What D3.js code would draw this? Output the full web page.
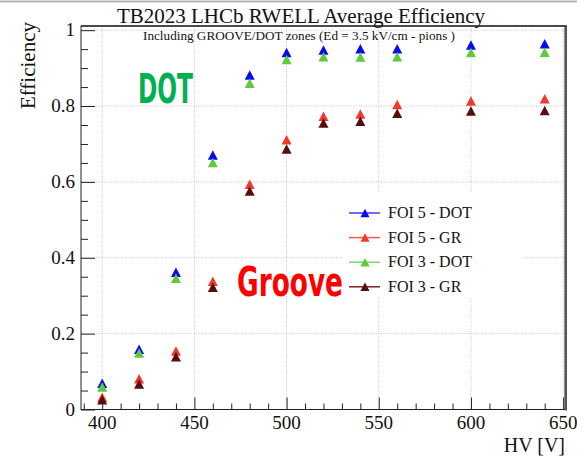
<!DOCTYPE html>
<html>
<head>
<meta charset="utf-8">
<script src="https://cdn.jsdelivr.net/npm/d3@7/dist/d3.min.js"></script>
<style>
  html, body { margin: 0; padding: 0; background: #fff; }
  svg { display: block; }
  text { font-family: "Liberation Serif", "DejaVu Serif", serif; fill: #111; }
</style>
</head>
<body>
<div id="chart"></div>
<script>
// HV scan points and efficiencies per zone / field of interest
const hv = [400, 420, 440, 460, 480, 500, 520, 540, 560, 600, 640];
const foi5Dot = [0.069, 0.159, 0.362, 0.671, 0.882, 0.941, 0.948, 0.951, 0.951, 0.961, 0.964];
const foi5Gr  = [0.032, 0.081, 0.154, 0.338, 0.594, 0.711, 0.773, 0.779, 0.804, 0.813, 0.819];
const foi3Dot = [0.059, 0.149, 0.346, 0.651, 0.860, 0.923, 0.930, 0.929, 0.930, 0.941, 0.942];
const foi3Gr  = [0.026, 0.067, 0.139, 0.322, 0.576, 0.687, 0.755, 0.760, 0.781, 0.787, 0.788];

const seriesNames = ["FOI 5 - DOT", "FOI 5 - GR", "FOI 3 - DOT", "FOI 3 - GR"];
const seriesValues = [foi5Dot, foi5Gr, foi3Dot, foi3Gr];
const seriesColors = ["#0a0af0", "#f03a2c", "#5ccc3c", "#5a0c0c"];
const legendColors = ["#3b3bff", "#f25a4a", "#7ad86a", "#7a2a2a"];

const xTicks = [400, 450, 500, 550, 600, 650];
const yTicks = [0, 0.2, 0.4, 0.6, 0.8, 1];

const width = 577, height = 456;
const frame = {left: 81, right: 565, top: 26, bottom: 409.5};

const x = d3.scaleLinear().domain([388.5, 651]).range([frame.left, frame.right]);
const y = d3.scaleLinear().domain([0, 1.011]).range([frame.bottom, frame.top]);

const svg = d3.select("#chart").append("svg")
    .attr("width", width)
    .attr("height", height);

svg.append("rect").attr("width", width).attr("height", height).attr("fill", "#fff");
svg.append("line")
    .attr("x1", 0).attr("x2", width).attr("y1", 1.5).attr("y2", 1.5)
    .attr("stroke", "#b4b4b4").attr("stroke-width", 2);

// dotted grid
const grid = svg.append("g").attr("stroke", "#c4c4c4").attr("stroke-dasharray", "1,1.5");
grid.selectAll(".gx").data(xTicks).enter().append("line")
    .attr("x1", d => x(d)).attr("x2", d => x(d))
    .attr("y1", frame.top).attr("y2", frame.bottom);
grid.selectAll(".gy").data(yTicks.filter(d => d > 0)).enter().append("line")
    .attr("x1", frame.left).attr("x2", frame.right)
    .attr("y1", d => y(d)).attr("y2", d => y(d));

// axes with ticks pointing into the frame
const xAxis = d3.axisBottom(x)
    .tickValues(d3.range(390, 651, 10))
    .tickSize(-6)
    .tickFormat("");
svg.append("g").attr("transform", `translate(0,${frame.bottom})`).call(xAxis)
    .call(g => g.select(".domain").remove())
    .call(g => g.selectAll(".tick line")
        .attr("stroke", "#222")
        .attr("y2", d => d % 50 === 0 ? -12 : -6));

const yAxis = d3.axisLeft(y)
    .tickValues(d3.range(0, 1.001, 0.05))
    .tickSize(-7)
    .tickFormat("");
svg.append("g").attr("transform", `translate(${frame.left},0)`).call(yAxis)
    .call(g => g.select(".domain").remove())
    .call(g => g.selectAll(".tick line")
        .attr("stroke", "#222")
        .attr("x2", (d, i) => i % 4 === 0 ? 14 : 7));

svg.append("g").selectAll("text").data(xTicks).enter().append("text")
    .attr("x", d => x(d)).attr("y", 429)
    .attr("text-anchor", "middle")
    .attr("font-size", 19)
    .text(d => d);

svg.append("g").selectAll("text").data(yTicks).enter().append("text")
    .attr("x", 75).attr("y", d => y(d) + 6)
    .attr("text-anchor", "end")
    .attr("font-size", 19)
    .text(d => d3.format("~g")(d));

// frame
svg.append("rect")
    .attr("x", frame.left).attr("y", frame.top)
    .attr("width", frame.right - frame.left).attr("height", frame.bottom - frame.top)
    .attr("fill", "none").attr("stroke", "#222").attr("stroke-width", 1);
svg.append("line")
    .attr("x1", frame.right + 1).attr("x2", frame.right + 1)
    .attr("y1", frame.top).attr("y2", frame.bottom + 1)
    .attr("stroke", "#555").attr("stroke-width", 2);
svg.append("line")
    .attr("x1", frame.left).attr("x2", frame.right + 2)
    .attr("y1", frame.top).attr("y2", frame.top)
    .attr("stroke", "#333").attr("stroke-width", 1.5);

// titles
svg.append("text")
    .attr("x", 301).attr("y", 23)
    .attr("text-anchor", "middle")
    .attr("font-size", 21)
    .text("TB2023 LHCb RWELL Average Efficiency");
svg.append("text")
    .attr("x", 299).attr("y", 40)
    .attr("text-anchor", "middle")
    .attr("font-size", 13.2)
    .text("Including GROOVE/DOT zones (Ed = 3.5 kV/cm - pions )");
svg.append("text")
    .attr("transform", "translate(35,22) rotate(-90)")
    .attr("text-anchor", "end")
    .attr("font-size", 21)
    .text("Efficiency");
svg.append("text")
    .attr("x", frame.right).attr("y", 452)
    .attr("text-anchor", "end")
    .attr("font-size", 20)
    .text("HV [V]");

// zone labels
svg.append("text")
    .attr("x", 138).attr("y", 103)
    .attr("textLength", 55).attr("lengthAdjust", "spacingAndGlyphs")
    .style("font-family", "'Liberation Sans Narrow', 'DejaVu Sans Condensed', sans-serif")
    .attr("font-weight", "bold")
    .attr("font-size", 41)
    .style("fill", "#00b050")
    .text("DOT");
svg.append("text")
    .attr("x", 237).attr("y", 296)
    .attr("textLength", 106).attr("lengthAdjust", "spacingAndGlyphs")
    .style("font-family", "'Liberation Sans Narrow', 'DejaVu Sans Condensed', sans-serif")
    .attr("font-weight", "bold")
    .attr("font-size", 41)
    .style("fill", "#ff0000")
    .text("Groove");

// triangle marker centred on its box
const tri = (w, h) => `M0,${-h / 2}L${w / 2},${h / 2}L${-w / 2},${h / 2}Z`;

seriesValues.forEach((vals, i) => {
    svg.append("g").selectAll("path")
        .data(hv.map((v, j) => [v, vals[j]]))
        .enter().append("path")
        .attr("d", tri(10, 9.5))
        .attr("transform", d => `translate(${x(d[0])},${y(d[1])})`)
        .attr("fill", seriesColors[i]);
});

// legend
const legend = svg.append("g");
legend.append("rect")
    .attr("x", 342).attr("y", 193).attr("width", 181).attr("height", 105)
    .attr("fill", "#fff");
const rows = legend.selectAll(".row").data(seriesNames).enter().append("g")
    .attr("transform", (d, i) => `translate(0,${213 + i * 24.6})`);
rows.append("line")
    .attr("x1", 349).attr("x2", 380)
    .attr("stroke", (d, i) => legendColors[i]).attr("stroke-width", 1.5);
rows.append("path")
    .attr("d", tri(9, 8.5))
    .attr("transform", "translate(365,0)")
    .attr("fill", (d, i) => seriesColors[i]);
rows.append("text")
    .attr("x", 388).attr("y", 5)
    .attr("font-size", 16)
    .text(d => d);
</script>
</body>
</html>
